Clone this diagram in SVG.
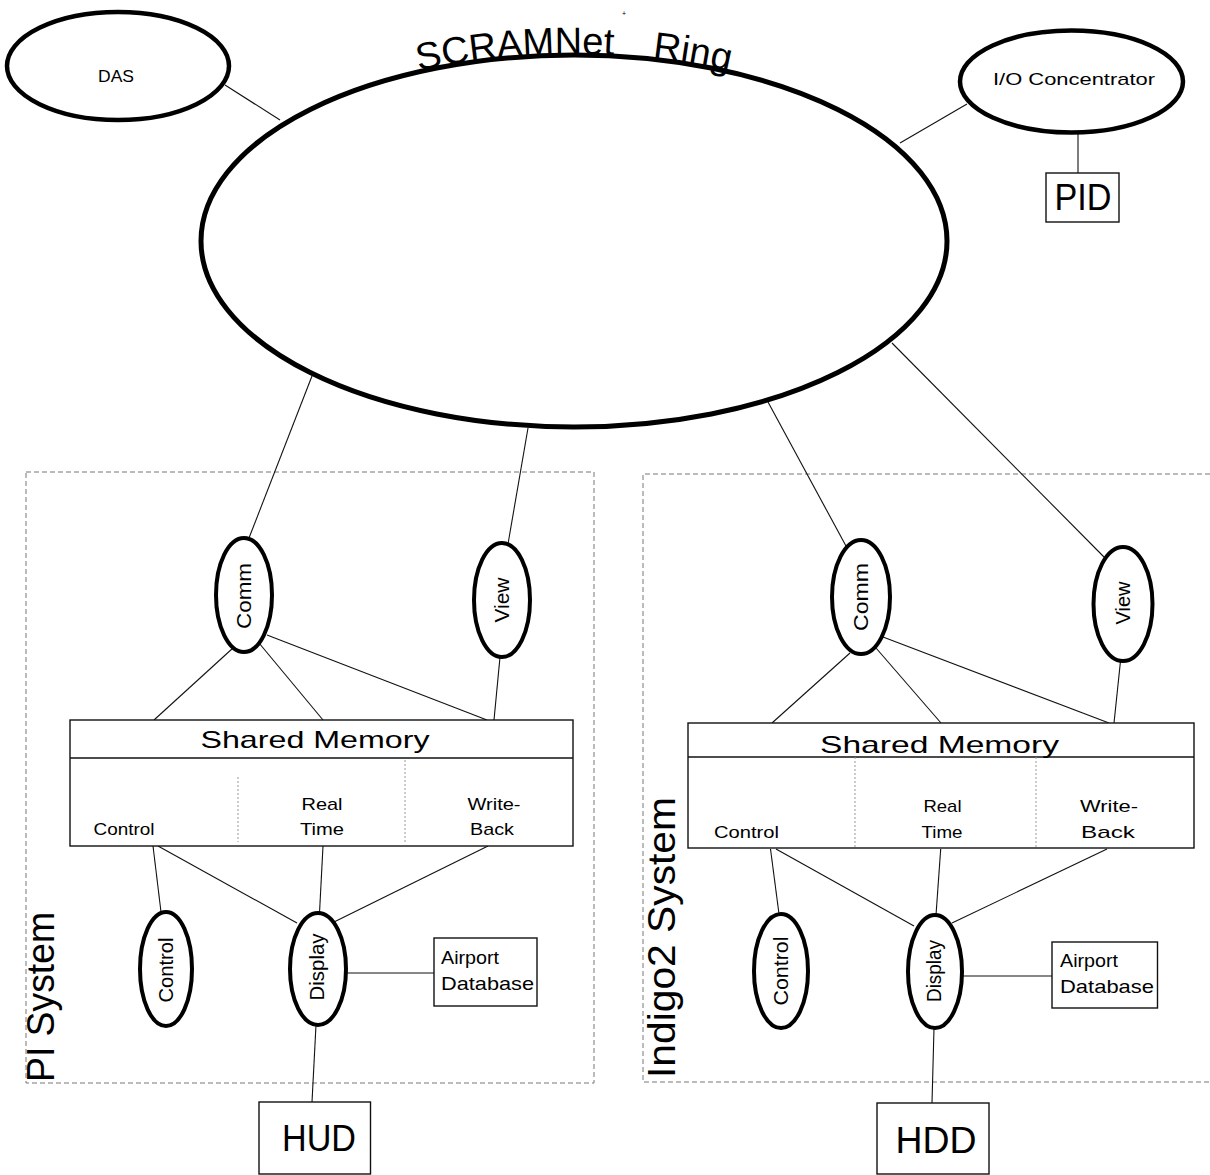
<svg xmlns="http://www.w3.org/2000/svg" width="1210" height="1175" viewBox="0 0 1210 1175">
<style>
  .bg { fill: #ffffff; }
  .ring { fill: none; stroke: #000; stroke-width: 5; }
  .node { fill: #fff; stroke: #000; stroke-width: 4.5; }
  .proc { fill: #fff; stroke: #000; stroke-width: 4; }
  .box { fill: #fff; stroke: #111; stroke-width: 1.4; }
  .sys { fill: none; stroke: #777; stroke-width: 1; stroke-dasharray: 5 3; }
  .div { fill: none; stroke: #999; stroke-width: 1; stroke-dasharray: 2 2; }
  .conn line { stroke: #111; stroke-width: 1.1; }
  text { font-family: "Liberation Sans", Arial, sans-serif; fill: #000; }
  .lbl { font-size: 17px; text-anchor: middle; }
  .vlbl { font-size: 20px; text-anchor: middle; }
  .big { font-size: 37px; text-anchor: middle; }
  .sm { font-size: 24px; text-anchor: middle; }
  .sys-t { font-size: 39px; }
</style>
<defs>
  <path id="ringTop" d="M 200,241 A 374 187 0 0 1 948,241"/>
</defs>
<rect class="bg" x="0" y="0" width="1210" height="1175"/>

<!-- system boundaries -->
<g id="pi-system">
  <rect class="sys" x="26" y="472" width="568" height="611"/>
  <text class="sys-t" transform="translate(54,1082) rotate(-90)" textLength="170" lengthAdjust="spacingAndGlyphs">PI System</text>
</g>
<g id="indigo2-system">
  <path class="sys" d="M 1210,474 H 643 V 1082 H 1210"/>
  <text class="sys-t" transform="translate(675,1078) rotate(-90)" textLength="281" lengthAdjust="spacingAndGlyphs">Indigo2 System</text>
</g>

<!-- connectors -->
<g id="connectors" class="conn">
  <line x1="225" y1="85" x2="280" y2="120"/>
  <line x1="967" y1="104" x2="900" y2="143"/>
  <line x1="1078" y1="134" x2="1078" y2="173"/>
  <line x1="312" y1="376" x2="249" y2="538"/>
  <line x1="528" y1="428" x2="508" y2="544"/>
  <line x1="233" y1="648" x2="154" y2="720"/>
  <line x1="259" y1="643" x2="323" y2="720"/>
  <line x1="267" y1="635" x2="487" y2="720"/>
  <line x1="500" y1="657" x2="494" y2="720"/>
  <line x1="153" y1="846" x2="161" y2="912"/>
  <line x1="158" y1="846" x2="297" y2="923"/>
  <line x1="323" y1="846" x2="319.5" y2="913"/>
  <line x1="488" y1="846" x2="334" y2="922"/>
  <line x1="346" y1="973" x2="434" y2="973"/>
  <line x1="316" y1="1025" x2="312" y2="1102"/>
  <line x1="768" y1="402" x2="846" y2="546"/>
  <line x1="892" y1="343" x2="1105" y2="558"/>
  <line x1="850" y1="653" x2="772" y2="723"/>
  <line x1="876" y1="648" x2="941" y2="723"/>
  <line x1="883" y1="637" x2="1109" y2="723"/>
  <line x1="1120.5" y1="661" x2="1114" y2="723"/>
  <line x1="770.5" y1="849" x2="779" y2="914"/>
  <line x1="776" y1="849" x2="914" y2="926"/>
  <line x1="940.7" y1="849" x2="936" y2="915"/>
  <line x1="1107" y1="849" x2="952" y2="923"/>
  <line x1="962" y1="976" x2="1052" y2="976"/>
  <line x1="934" y1="1028" x2="932" y2="1103"/>
</g>

<!-- SCRAMNet ring -->
<g id="scramnet-ring">
  <ellipse class="ring" cx="574" cy="241" rx="373" ry="186"/>
  <text font-size="38" word-spacing="28"><textPath href="#ringTop" startOffset="50%" text-anchor="middle">SCRAMNet Ring</textPath></text>
  <text x="622" y="16" font-size="7">+</text>
</g>

<g id="das">
  <ellipse class="node" cx="118" cy="66" rx="111" ry="54"/>
  <text class="lbl" x="116" y="82" textLength="36" lengthAdjust="spacingAndGlyphs">DAS</text>
</g>

<g id="io-concentrator">
  <ellipse class="node" cx="1071.5" cy="81.5" rx="111.5" ry="51"/>
  <text class="lbl" x="1074" y="85" font-size="18" textLength="162" lengthAdjust="spacingAndGlyphs">I/O Concentrator</text>
</g>

<g id="pid">
  <rect class="box" x="1046" y="173" width="73" height="49"/>
  <text class="big" x="1083" y="210" font-size="36" textLength="57" lengthAdjust="spacingAndGlyphs">PID</text>
</g>

<!-- PI system nodes -->
<g id="pi-comm">
  <ellipse class="proc" cx="244" cy="595" rx="28" ry="57"/>
  <text class="vlbl" transform="translate(251,596) rotate(-90)" textLength="66" lengthAdjust="spacingAndGlyphs">Comm</text>
</g>
<g id="pi-view">
  <ellipse class="proc" cx="502" cy="600" rx="28" ry="57"/>
  <text class="vlbl" transform="translate(509,600) rotate(-90)" textLength="45" lengthAdjust="spacingAndGlyphs">View</text>
</g>
<g id="pi-shared-memory">
  <rect class="box" x="70" y="720" width="503" height="126"/>
  <line x1="70" y1="758" x2="573" y2="758" stroke="#111" stroke-width="1.4"/>
  <line class="div" x1="238" y1="777" x2="238" y2="842"/>
  <line class="div" x1="405" y1="760" x2="405" y2="842"/>
  <text class="sm" x="315" y="748" textLength="229" lengthAdjust="spacingAndGlyphs">Shared Memory</text>
  <text class="lbl" x="124" y="835" textLength="61" lengthAdjust="spacingAndGlyphs">Control</text>
  <text class="lbl" x="322" y="810" textLength="41" lengthAdjust="spacingAndGlyphs">Real</text>
  <text class="lbl" x="322" y="835" textLength="44" lengthAdjust="spacingAndGlyphs">Time</text>
  <text class="lbl" x="494" y="810" textLength="53" lengthAdjust="spacingAndGlyphs">Write-</text>
  <text class="lbl" x="492" y="835" textLength="44" lengthAdjust="spacingAndGlyphs">Back</text>
</g>
<g id="pi-control">
  <ellipse class="proc" cx="166" cy="969" rx="26" ry="57"/>
  <text class="vlbl" transform="translate(173,970) rotate(-90)" textLength="65" lengthAdjust="spacingAndGlyphs">Control</text>
</g>
<g id="pi-display">
  <ellipse class="proc" cx="318" cy="969" rx="28" ry="56"/>
  <text class="vlbl" transform="translate(324,967) rotate(-90)" textLength="67" lengthAdjust="spacingAndGlyphs">Display</text>
</g>
<g id="pi-airport-db">
  <rect class="box" x="434" y="938" width="103" height="68" stroke-width="1.1"/>
  <text x="441" y="964" font-size="19" textLength="58" lengthAdjust="spacingAndGlyphs">Airport</text>
  <text x="441" y="990" font-size="19" textLength="93" lengthAdjust="spacingAndGlyphs">Database</text>
</g>
<g id="hud">
  <rect class="box" x="259" y="1102" width="111.5" height="72"/>
  <text class="big" x="319" y="1151" textLength="74" lengthAdjust="spacingAndGlyphs">HUD</text>
</g>

<!-- Indigo2 system nodes -->
<g id="indigo-comm">
  <ellipse class="proc" cx="861" cy="597" rx="29" ry="57"/>
  <text class="vlbl" transform="translate(868,597) rotate(-90)" textLength="68" lengthAdjust="spacingAndGlyphs">Comm</text>
</g>
<g id="indigo-view">
  <ellipse class="proc" cx="1123" cy="604" rx="29.5" ry="57"/>
  <text class="vlbl" transform="translate(1130,603) rotate(-90)" textLength="43" lengthAdjust="spacingAndGlyphs">View</text>
</g>
<g id="indigo-shared-memory">
  <rect class="box" x="688" y="723" width="506" height="125"/>
  <line x1="688" y1="757" x2="1194" y2="757" stroke="#111" stroke-width="1.4"/>
  <line class="div" x1="855" y1="757" x2="855" y2="848"/>
  <line class="div" x1="1036" y1="757" x2="1036" y2="848"/>
  <text class="sm" x="939.5" y="753" textLength="239" lengthAdjust="spacingAndGlyphs">Shared Memory</text>
  <text class="lbl" x="746.5" y="838" textLength="65" lengthAdjust="spacingAndGlyphs">Control</text>
  <text class="lbl" x="942.5" y="812" textLength="38" lengthAdjust="spacingAndGlyphs">Real</text>
  <text class="lbl" x="942" y="838" textLength="41" lengthAdjust="spacingAndGlyphs">Time</text>
  <text class="lbl" x="1109" y="812" textLength="58" lengthAdjust="spacingAndGlyphs">Write-</text>
  <text class="lbl" x="1108" y="838" textLength="54" lengthAdjust="spacingAndGlyphs">Back</text>
</g>
<g id="indigo-control">
  <ellipse class="proc" cx="781" cy="971" rx="27" ry="57"/>
  <text class="vlbl" transform="translate(788,971) rotate(-90)" textLength="69" lengthAdjust="spacingAndGlyphs">Control</text>
</g>
<g id="indigo-display">
  <ellipse class="proc" cx="935" cy="971.5" rx="27" ry="56.5"/>
  <text class="vlbl" transform="translate(941,971) rotate(-90)" textLength="62" lengthAdjust="spacingAndGlyphs">Display</text>
</g>
<g id="indigo-airport-db">
  <rect class="box" x="1052" y="942" width="105.5" height="66" stroke-width="1.1"/>
  <text x="1060" y="967" font-size="19" textLength="58" lengthAdjust="spacingAndGlyphs">Airport</text>
  <text x="1060" y="993" font-size="19" textLength="94" lengthAdjust="spacingAndGlyphs">Database</text>
</g>
<g id="hdd">
  <rect class="box" x="877" y="1103" width="112" height="71"/>
  <text class="big" x="936" y="1153" textLength="81" lengthAdjust="spacingAndGlyphs">HDD</text>
</g>
</svg>
